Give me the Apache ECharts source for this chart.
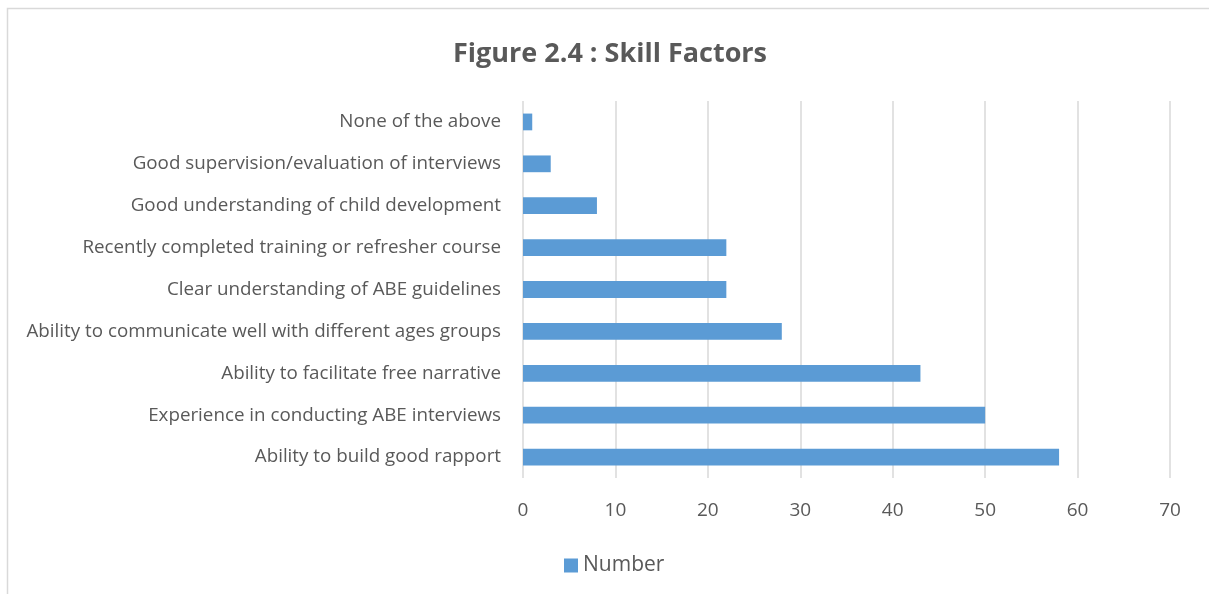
<!DOCTYPE html>
<html>
<head>
<meta charset="utf-8">
<script src="https://cdn.jsdelivr.net/npm/echarts@6/dist/echarts.min.js"></script>
<style>
  html, body { margin: 0; padding: 0; background: #fff; }
  #chart { width: 1209px; height: 594px; }
</style>
</head>
<body>
<div id="chart"></div>
<script>
// categories top to bottom, as in the picture
const categories = [
  'None of the above',
  'Good supervision/evaluation of interviews',
  'Good understanding of child development',
  'Recently completed training or refresher course',
  'Clear understanding of ABE guidelines',
  'Ability to communicate well with different ages groups',
  'Ability to facilitate free narrative',
  'Experience in conducting ABE interviews',
  'Ability to build good rapport'
];
const numberValues = [1, 3, 8, 22, 22, 28, 43, 50, 58];
const seriesName = 'Number';
const titleText = 'Figure 2.4 : Skill Factors';

const font = 'Open Sans';
const textColor = '#595959';
const lineColor = '#d9d9d9';

let myChart = echarts.init(document.getElementById('chart'), null, { renderer: 'canvas' });

let option = {
  backgroundColor: '#fff',
  animation: false,
  graphic: [
    {
      // outer chart border
      type: 'rect',
      shape: { x: 7.5, y: 8.5, width: 1220, height: 600 },
      style: { fill: 'none', stroke: lineColor, lineWidth: 1.5 },
      silent: true
    }
  ],
  title: {
    text: titleText,
    left: 605,
    textAlign: 'center',
    top: 36,
    textStyle: {
      color: textColor,
      fontFamily: font,
      fontWeight: 'bold',
      fontSize: 27
    }
  },
  legend: {
    data: [seriesName],
    left: 559,
    top: 550,
    icon: 'rect',
    itemWidth: 14,
    itemHeight: 14,
    itemGap: 4,
    textStyle: { color: textColor, fontFamily: font, fontSize: 21 }
  },
  grid: {
    left: 523,
    right: 39,
    top: 101,
    bottom: 116,
    containLabel: false
  },
  xAxis: {
    type: 'value',
    min: 0,
    max: 70,
    interval: 10,
    axisLine: { show: false },
    axisTick: { show: false },
    splitLine: { show: true, lineStyle: { color: lineColor, width: 1.5 } },
    axisLabel: { color: textColor, fontFamily: font, fontSize: 19, margin: 23 }
  },
  yAxis: {
    type: 'category',
    inverse: true,
    data: categories,
    axisLine: { show: false },
    axisTick: { show: false },
    axisLabel: { color: textColor, fontFamily: font, fontSize: 18.8, margin: 22 }
  },
  series: [
    {
      name: seriesName,
      type: 'bar',
      data: numberValues,
      barWidth: '40%',
      itemStyle: { color: '#5b9bd5' }
    }
  ]
};

myChart.setOption(option);
window.addEventListener('resize', myChart.resize);
</script>
</body>
</html>
